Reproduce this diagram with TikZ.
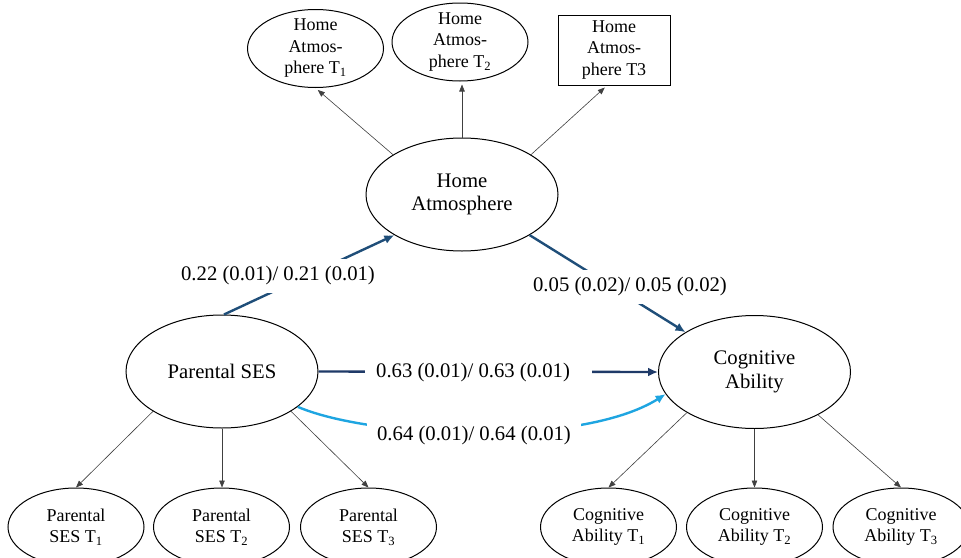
\documentclass[tikz,border=0pt]{standalone}
\usepackage{fontspec}
\setmainfont{Liberation Serif}
\usetikzlibrary{shapes.geometric,arrows.meta}
\definecolor{navyA}{HTML}{1F4E79}
\definecolor{navyB}{HTML}{1F3A68}
\definecolor{skyA}{RGB}{30,165,225}
\definecolor{thinline}{HTML}{404040}
\begin{document}
\begin{tikzpicture}[x=1pt,y=-1pt,
  latent/.style={ellipse, draw=black, line width=1pt, inner sep=-6pt, align=center,
    font=\fontsize{18}{21.5}\selectfont, minimum width=136pt, minimum height=78pt},
  bigl/.style={latent, minimum width=192pt, minimum height=113pt,
    font=\fontsize{20.7}{23.5}\selectfont},
  obsbox/.style={rectangle, draw=black, line width=1pt, align=center, inner sep=0pt,
    font=\fontsize{18}{21.5}\selectfont, minimum width=112pt, minimum height=70pt},
  load/.style={draw=thinline, line width=0.6pt, -{Triangle[length=7pt,width=5.5pt]}},
  pathd/.style={draw=navyA, line width=2.4pt, -{Latex[length=10pt,width=9pt]}},
  coef/.style={fill=white, inner xsep=10pt, inner ysep=8pt, font=\fontsize{20.7}{24}\selectfont}
]
\fill[white] (0,0) rectangle (961,557);
\useasboundingbox (0,0) rectangle (961,557);

% top indicators
\node[latent] (HAT1) at (315.5,48.5) {Home\\Atmos-\\phere T\textsubscript{1}};
\node[latent] (HAT2) at (460,42) {Home\\Atmos-\\phere T\textsubscript{2}};
\node[obsbox] (HAT3) at (614,50) {Home\\Atmos-\\phere T3};

% latent factors
\node[bigl] (HA) at (462,194.5) {Home\\Atmosphere};
\node[bigl] (SES) at (222,371.5) {Parental SES};
\node[bigl] (Cog) at (754.5,372) {Cognitive\\Ability};

% bottom indicators
\node[latent] (PT1) at (76,527) {Parental\\SES T\textsubscript{1}};
\node[latent] (PT2) at (221.5,527) {Parental\\SES T\textsubscript{2}};
\node[latent] (PT3) at (368.5,527) {Parental\\SES T\textsubscript{3}};
\node[latent] (CT1) at (608.5,527) {Cognitive\\Ability T\textsubscript{1}};
\node[latent] (CT2) at (754.5,527) {Cognitive\\Ability T\textsubscript{2}};
\node[latent] (CT3) at (901,527) {Cognitive\\Ability T\textsubscript{3}};

% loadings
\draw[load, shorten >=3pt] (HA.150) -- (HAT1.south);
\draw[load, shorten >=3pt] (HA.north) -- (HA.north |- HAT2.south);
\draw[load, shorten >=3pt] (HA.30) -- ([xshift=-7pt]HAT3.south);
\draw[load] (SES.210) -- (PT1.north);
\draw[load] (SES.south) -- (SES.south |- PT2.north);
\draw[load] (SES.-30) -- (PT3.north);
\draw[load] (Cog.211) -- (CT1.north);
\draw[load] (Cog.south) -- (Cog.south |- CT2.north);
\draw[load] (Cog.-34) -- (CT3.north);

% structural paths
\draw[pathd] (SES.88) -- (HA.211);
\draw[pathd] (HA.-31) -- (Cog.150);
\draw[pathd, draw=navyB] (SES.east) -- (Cog.west);
\draw[pathd, draw=skyA] (SES.-25) .. controls (370,438) and (580,448) .. (Cog.194);

% coefficients
\node[coef] (c1) at (278,276) {0.22 (0.01)/ 0.21 (0.01)};
\node[coef] (c2) at (630,287) {0.05 (0.02)/ 0.05 (0.02)};
\node[coef, inner xsep=11pt, anchor=west] (c3) at (365,373) {\makebox[205pt][l]{0.63 (0.01)/ 0.63 (0.01)}};
\node[coef] (c4) at (474,436) {0.64 (0.01)/ 0.64 (0.01)};
\end{tikzpicture}
\end{document}
